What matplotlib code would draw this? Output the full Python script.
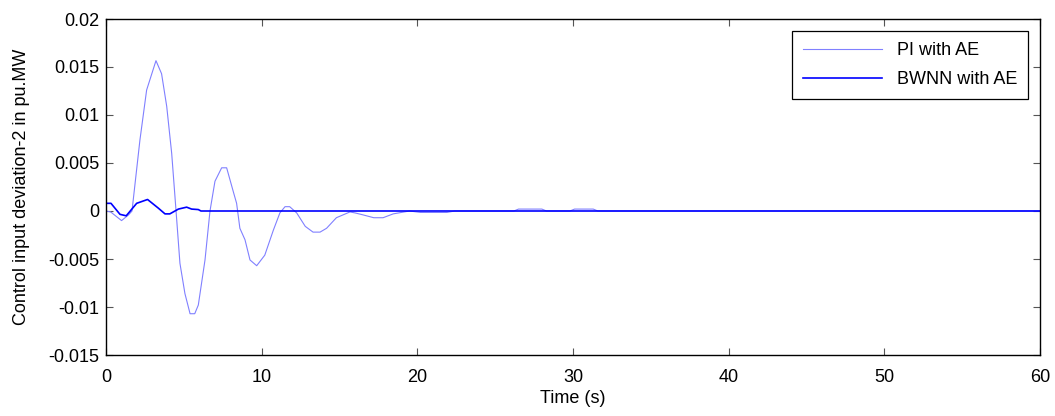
import matplotlib.pyplot as plt
import numpy as np

plt.rcParams['font.family'] = ['Liberation Sans', 'DejaVu Sans']

# PI with AE
t_pi = [0, 0.3, 1.0, 1.45, 1.67, 2.18, 2.61, 3.21, 3.57, 3.9, 4.22, 4.5, 4.75,
        5.07, 5.4, 5.7, 5.93, 6.36, 6.68, 7.0, 7.43, 7.75, 8.18, 8.39, 8.6,
        8.93, 9.25, 9.68, 10.2, 10.75, 11.17, 11.5, 11.8, 12.25, 12.8, 13.3,
        13.75, 14.17, 14.8, 15.67, 16.0, 16.5, 17.2, 17.8, 18.45, 19.5, 20.2,
        21.9, 22.4, 26.2, 26.5, 28.0, 28.3, 29.8, 30.1, 31.3, 31.6, 60]
v_pi = [0, -0.0001, -0.001, -0.0004, 0, 0.0074, 0.0126, 0.01566, 0.0143,
        0.0109, 0.006, 0, -0.00545, -0.0086, -0.0107, -0.0107, -0.0098,
        -0.0051, 0, 0.0031, 0.0045, 0.0045, 0.002, 0.0008, -0.0018, -0.003,
        -0.0051, -0.0057, -0.0046, -0.002, -0.0002, 0.00045, 0.00045, -0.0002,
        -0.0016, -0.0022, -0.0022, -0.0018, -0.0007, -0.0001, -0.0002,
        -0.0004, -0.0007, -0.0007, -0.0003, 0, -0.00015, -0.00015, 0, 0,
        0.0002, 0.0002, 0, 0, 0.0002, 0.0002, 0, 0]

# BWNN with AE
t_bw = [0, 0.32, 0.9, 1.3, 1.97, 2.67, 3.36, 3.79, 4.1, 4.65, 5.18, 5.5,
        5.93, 6.1, 60]
v_bw = [0.0008, 0.0008, -0.00035, -0.0005, 0.0008, 0.0012, 0.0003,
        -0.0003, -0.0003, 0.0002, 0.0004, 0.0002, 0.00015, 0, 0]

fig = plt.figure(figsize=(10.55, 4.16), dpi=100)
ax = fig.add_axes([106/1055, 1-355/416, 934/1055, 336/416])

ax.plot(t_pi, v_pi, color='#8080ff', lw=0.8, label='PI with AE')
ax.plot(t_bw, v_bw, color='#0000ff', lw=1.2, label='BWNN with AE')

ax.set_xlim(0, 60)
ax.set_ylim(-0.015, 0.02)
ax.set_xticks(np.arange(0, 61, 10))
ax.set_yticks(np.arange(-0.015, 0.0201, 0.005))
ax.set_yticklabels(['-0.015', '-0.01', '-0.005', '0', '0.005', '0.01', '0.015', '0.02'])
ax.tick_params(direction='in', top=True, right=True, labelsize=13, length=5,
               color='#555555')
ax.tick_params(axis='y', pad=5)
ax.tick_params(axis='x', pad=10)
for s in ax.spines.values():
    s.set_linewidth(1.0)

ax.set_xlabel('Time (s)', fontsize=13, labelpad=3)
ax.set_ylabel('Control input deviation-2 in pu.MW', fontsize=13, labelpad=13)

leg = ax.legend(loc='upper right', bbox_to_anchor=(1 - 12/934, 1 - 12/336),
                fontsize=13, fancybox=False, edgecolor='black', framealpha=1,
                handlelength=4.4, borderaxespad=0, borderpad=0.6,
                labelspacing=0.7)
leg.get_frame().set_linewidth(0.9)

fig.savefig('out.png', dpi=100)
